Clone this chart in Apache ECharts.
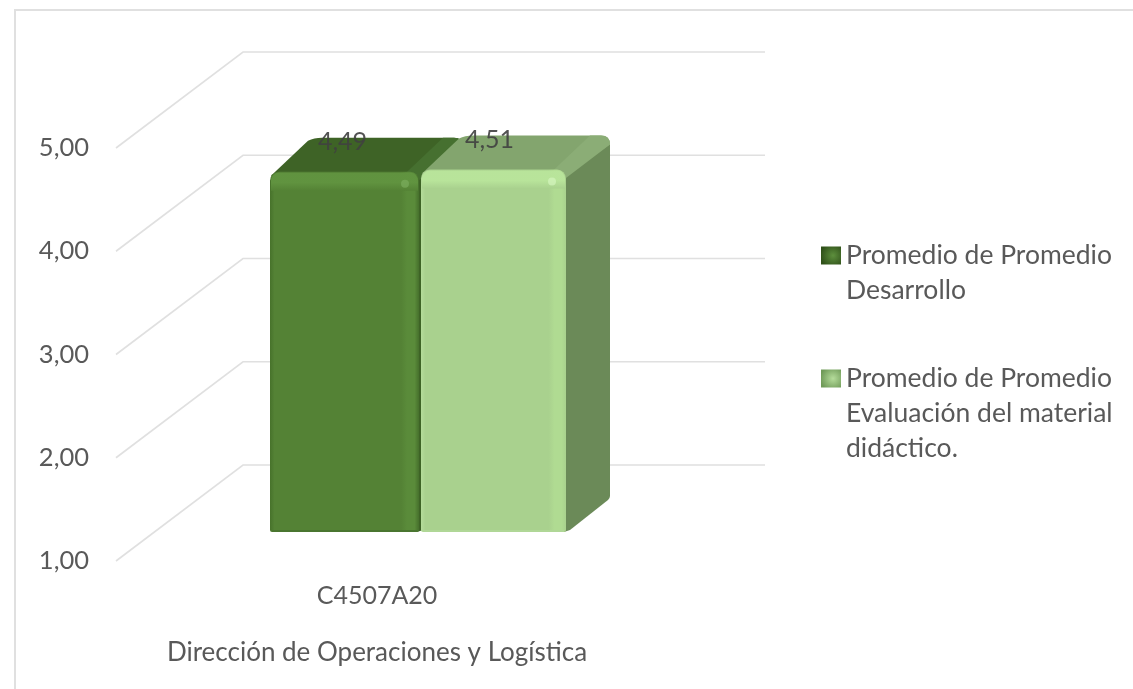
<!DOCTYPE html>
<html>
<head>
<meta charset="utf-8">
<style>html,body{margin:0;padding:0;background:#fff}#c{width:1133px;height:689px}</style>
<script src="https://cdn.jsdelivr.net/npm/echarts@6/dist/echarts.min.js"></script>
</head>
<body>
<div id="c"></div>
<script>
const categories = ['C4507A20'];
const groupLabel = 'Dirección de Operaciones y Logística';
const seriesNames = ['Promedio de Promedio Desarrollo', 'Promedio de Promedio Evaluación del material didáctico.'];
const legendTexts = ['\nPromedio de Promedio\nDesarrollo', '\n\nPromedio de Promedio\nEvaluación del material\ndidáctico.'];
const desarrollo = [4.49];
const evaluacion = [4.51];
const yTicks = [1, 2, 3, 4, 5];

const FONT = 'Lato';
const TXT = '#595959';
const WALL = [127, -96];          // floor depth of the 3D box
const PLANE = [40, -29];          // plane of the bars inside the box
const DEPTH = [44, -34];          // depth of each bar

const palettes = [
  { front:'#548235', edgeL:'#47722b', band:'#5a8b3a', edgeR:'#46702c', topBand:'#619440', spot:'#7aac5c',
    top:'#3e6326', topEdge:'#467030', side:'#3e6326', bottom:'#4a7630' },
  { front:'#a9d18e', edgeL:'#b5dc9b', band:'#b0db92', edgeR:'#a9d18e', topBand:'#b9e59b', spot:'#d4f5bd',
    top:'#83a56e', topEdge:'#8bad76', side:'#6b8a58', bottom:'#b0d797' }
];
const barSpans = [[-107, 42], [44, 189]];  // horizontal span of each bar around the category centre
const labelShift = [[-2, -30], [-4, -30]];

function bar3d(idx) {
  return function (params, api) {
    const p = palettes[idx];
    const v = api.value(1);
    const top = api.coord([api.value(0), v]);
    const base = api.coord([api.value(0), 1]);
    const x0 = top[0] + barSpans[idx][0], x1 = top[0] + barSpans[idx][1];
    const yT = top[1] + PLANE[1], yB = base[1] + PLANE[1];
    const dx = DEPTH[0], dy = DEPTH[1];
    const w = x1 - x0, h = yB - yT;
    const r = 9;
    const topPath = 'M' + (x0 + 1) + ' ' + (yT + 4) +
      'L' + (x0 + dx - 6) + ' ' + (yT + dy + 3) +
      'Q' + (x0 + dx) + ' ' + (yT + dy) + ' ' + (x0 + dx + 8) + ' ' + (yT + dy) +
      'L' + (x1 + dx - r) + ' ' + (yT + dy) +
      'Q' + (x1 + dx) + ' ' + (yT + dy) + ' ' + (x1 + dx) + ' ' + (yT + dy + r) +
      'L' + (x1 - 4) + ' ' + (yT + 8) + 'L' + (x0 + 6) + ' ' + (yT + 8) + 'Z';
    const topEdgePath = 'M' + (x1 - 14) + ' ' + (yT + 2) +
      'L' + (x1 + dx - 20) + ' ' + (yT + dy) +
      'L' + (x1 + dx - r) + ' ' + (yT + dy) +
      'Q' + (x1 + dx) + ' ' + (yT + dy) + ' ' + (x1 + dx) + ' ' + (yT + dy + r) +
      'L' + (x1 - 2) + ' ' + (yT + 10) + 'Z';
    const sidePath = 'M' + (x1 - 2) + ' ' + (yT + 8) +
      'L' + (x1 + dx) + ' ' + (yT + dy + 8) +
      'L' + (x1 + dx) + ' ' + (yB + dy - 2) +
      'Q' + (x1 + dx) + ' ' + (yB + dy) + ' ' + (x1 + dx - 2) + ' ' + (yB + dy + 2) +
      'L' + (x1 + 4) + ' ' + (yB - 2) + 'L' + (x1 - 2) + ' ' + yB + 'Z';
    const mk = function (d, fill) {
      return { type:'path', shape:{ d:d }, style:{ fill:fill } };
    };
    const children = [
      mk(sidePath, p.side),
      mk(topPath, p.top),
      mk(topEdgePath, p.topEdge),
      { type:'rect', shape:{ x:x0, y:yT, width:w, height:h, r:[9, 9, 2, 2] }, style:{
          fill:{ type:'linear', x:0, y:0, x2:1, y2:0, colorStops:[
            { offset:0, color:p.edgeL }, { offset:0.03, color:p.front },
            { offset:0.88, color:p.front }, { offset:0.92, color:p.band },
            { offset:0.97, color:p.band }, { offset:1, color:p.edgeR }
          ] } } },
      { type:'rect', shape:{ x:x0 + 1, y:yT + 1, width:w - 2, height:18, r:[8, 8, 0, 0] }, style:{
          fill:{ type:'linear', x:0, y:0, x2:0, y2:1, colorStops:[
            { offset:0, color:p.topBand }, { offset:0.55, color:p.topBand }, { offset:1, color:p.front }
          ] }, opacity:0.95 } },
      { type:'circle', shape:{ cx:x1 - 14, cy:yT + 12, r:4 }, style:{ fill:p.spot, opacity:0.7 } },
      { type:'rect', shape:{ x:x0 + 2, y:yB - 2, width:w - 4, height:2 }, style:{ fill:p.bottom } },
      { type:'text', x:(x0 + x1) / 2 + labelShift[idx][0], y:yT + labelShift[idx][1],
        style:{ text:v.toFixed(2).replace('.', ','), font:'25px ' + FONT, fill:'#404040',
                align:'center', verticalAlign:'middle', opacity:0.9 } }
    ];
    return { type:'group', children:children };
  };
}

function wallLine(params, api) {
  const cs = params.coordSys;
  const y = api.coord([0, api.value(0)])[1];
  const x = cs.x;
  return { type:'polyline', shape:{ points:[
      [x, y], [x + WALL[0], y + WALL[1]], [x + cs.width + WALL[0], y + WALL[1]]
    ] }, style:{ stroke:'#e0e0e0', lineWidth:1.6, fill:null } };
}

function legendIcon(c0, c1) {
  return { type:'radial', x:0.6, y:0.5, r:0.7, colorStops:[
    { offset:0, color:c0 }, { offset:1, color:c1 } ] };
}

const chart = echarts.init(document.getElementById('c'), null, { renderer:'canvas' });
chart.setOption({
  animation:false,
  backgroundColor:'#ffffff',
  grid:{ left:116, top:148, width:522, height:413, containLabel:false },
  xAxis:{ type:'category', data:categories,
    axisLine:{ show:false }, axisTick:{ show:false }, splitLine:{ show:false },
    axisLabel:{ color:TXT, fontFamily:FONT, fontSize:25, margin:22 },
    name:groupLabel, nameLocation:'middle', nameGap:79,
    nameTextStyle:{ color:TXT, fontFamily:FONT, fontSize:26 } },
  yAxis:{ type:'value', min:1, max:5, interval:1,
    axisLine:{ show:false }, axisTick:{ show:false }, splitLine:{ show:false },
    axisLabel:{ color:TXT, fontFamily:FONT, fontSize:25.5, margin:27,
      formatter:function (v) { return v.toFixed(2).replace('.', ','); } } },
  legend:[
    { left:821, top:203, orient:'vertical', itemWidth:20, itemHeight:18, itemGap:0, padding:0,
      icon:'rect', data:[seriesNames[0]], formatter:function () { return legendTexts[0]; },
      textStyle:{ color:TXT, fontFamily:FONT, fontSize:26.5, lineHeight:35 } },
    { left:821, top:291, orient:'vertical', itemWidth:20, itemHeight:18, itemGap:0, padding:0,
      icon:'rect', data:[seriesNames[1]], formatter:function () { return legendTexts[1]; },
      textStyle:{ color:TXT, fontFamily:FONT, fontSize:26.5, lineHeight:35 } }
  ],
  graphic:[{ type:'polyline', silent:true, shape:{ points:[[15, 689], [15, 10], [1133, 10]] },
    style:{ stroke:'#e0e0e0', lineWidth:2, fill:null } }],
  series:[
    { type:'custom', name:'walls', silent:true, clip:false, z:1, renderItem:wallLine,
      encode:{ y:0 }, data:yTicks.map(function (t) { return [t]; }) },
    { type:'custom', name:seriesNames[0], silent:true, clip:false, z:2, renderItem:bar3d(0),
      itemStyle:{ color:legendIcon('#5d8f3d', '#2f5019') },
      encode:{ x:0, y:1 }, data:categories.map(function (c, i) { return [i, desarrollo[i]]; }) },
    { type:'custom', name:seriesNames[1], silent:true, clip:false, z:3, renderItem:bar3d(1),
      itemStyle:{ color:legendIcon('#b5dc9b', '#6f9a58') },
      encode:{ x:0, y:1 }, data:categories.map(function (c, i) { return [i, evaluacion[i]]; }) }
  ]
});
</script>
</body>
</html>
